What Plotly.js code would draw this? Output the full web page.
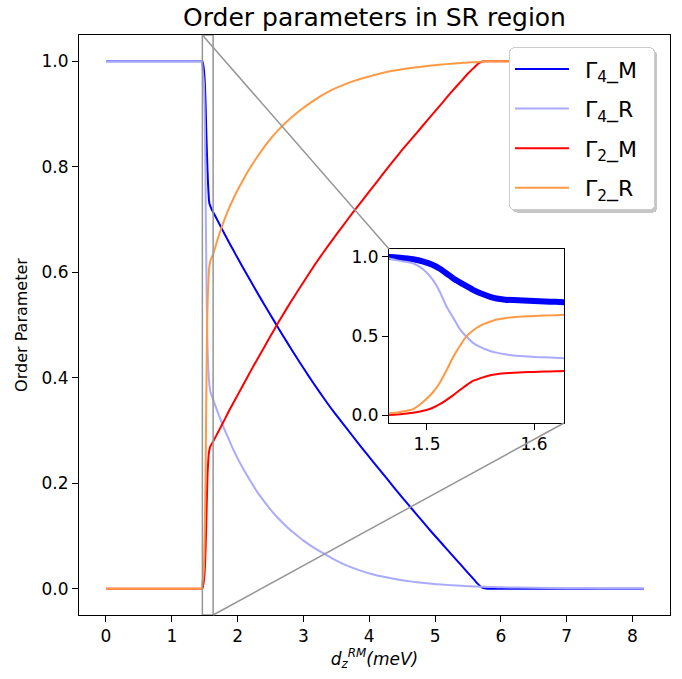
<!DOCTYPE html>
<html>
<head>
<meta charset="utf-8">
<script src="https://cdn.plot.ly/plotly-3.0.1.min.js"></script>
<style>html,body{margin:0;padding:0;background:#fff;}#chart{width:682px;height:679px;}</style>
</head>
<body>
<div id="chart"></div>
<script>
// ---- data ----
const dz = [0, 0.5, 1.0, 1.40, 1.44, 1.455, 1.4645, 1.475, 1.487, 1.4966, 1.505, 1.512, 1.518, 1.525, 1.531, 1.537, 1.543, 1.55, 1.559, 1.565, 1.573, 1.581, 1.59, 1.60, 1.61, 1.62, 1.628,
  1.65, 1.70, 1.75, 1.80, 1.86, 1.93, 2.0, 2.1, 2.2, 2.3, 2.4, 2.5, 2.62, 2.75, 2.88, 3.0, 3.15, 3.3, 3.45, 3.6, 3.75, 3.9, 4.05, 4.2, 4.35, 4.5, 4.65, 4.8, 4.95, 5.1, 5.25, 5.4, 5.5, 5.6, 5.65, 5.7, 5.75, 5.8, 5.9, 6.0, 6.5, 7.0, 7.5, 8.17];
const gamma4M = [1, 1, 1, 1, 1, 1, 1.0, 0.995, 0.985, 0.97, 0.95, 0.925, 0.897, 0.862, 0.838, 0.815, 0.792, 0.77, 0.748, 0.737, 0.73, 0.727, 0.724, 0.721, 0.718, 0.716, 0.714,
  0.709, 0.697, 0.685, 0.673, 0.659, 0.643, 0.627, 0.605, 0.583, 0.561, 0.540, 0.519, 0.494, 0.4675, 0.4416, 0.4183, 0.390, 0.363, 0.337, 0.313, 0.289, 0.265, 0.242, 0.219, 0.196, 0.173, 0.151, 0.129, 0.107, 0.086, 0.065, 0.044, 0.030, 0.016, 0.009, 0.0035, 0.0007, 0, 0, 0, 0, 0, 0, 0];
const gamma4R = [1, 1, 1, 1, 1, 1, 0.99, 0.975, 0.96, 0.92, 0.86, 0.78, 0.69, 0.61, 0.54, 0.495, 0.457, 0.43, 0.405, 0.395, 0.385, 0.377, 0.372, 0.368, 0.365, 0.362, 0.359,
  0.351, 0.334, 0.318, 0.302, 0.285, 0.265, 0.247, 0.224, 0.203, 0.183, 0.166, 0.150, 0.133, 0.117, 0.103, 0.091, 0.0784, 0.0674, 0.0563, 0.0470, 0.0393, 0.0328, 0.0274, 0.0229, 0.0191, 0.0160, 0.0133, 0.0111, 0.0093, 0.0078, 0.0065, 0.0054, 0.0047, 0.0042, 0.0039, 0.0037, 0.0035, 0.0033, 0.0029, 0.0026, 0.0015, 0.0008, 0.0004, 0.0002];
const gamma2M = [0, 0, 0, 0, 0, 0, 0.0, 0.005, 0.015, 0.027, 0.045, 0.069, 0.095, 0.128, 0.16, 0.19, 0.216, 0.234, 0.252, 0.259, 0.264, 0.268, 0.271, 0.273, 0.275, 0.277, 0.279,
  0.284, 0.296, 0.308, 0.320, 0.335, 0.351, 0.367, 0.390, 0.413, 0.435, 0.457, 0.479, 0.505, 0.532, 0.558, 0.581, 0.610, 0.637, 0.663, 0.688, 0.713, 0.737, 0.761, 0.785, 0.809, 0.832, 0.854, 0.876, 0.898, 0.92, 0.942, 0.963, 0.977, 0.989, 0.995, 0.9985, 1.0, 1, 1, 1, 1, 1, 1, 1];
const gamma2R = [0, 0, 0, 0, 0, 0, 0.01, 0.02, 0.038, 0.085, 0.14, 0.205, 0.28, 0.373, 0.44, 0.499, 0.535, 0.566, 0.59, 0.604, 0.613, 0.619, 0.623, 0.626, 0.629, 0.632, 0.634,
  0.643, 0.664, 0.683, 0.700, 0.719, 0.738, 0.756, 0.779, 0.800, 0.819, 0.837, 0.853, 0.870, 0.886, 0.900, 0.912, 0.925, 0.937, 0.947, 0.955, 0.962, 0.968, 0.973, 0.978, 0.982, 0.985, 0.988, 0.990, 0.992, 0.994, 0.9955, 0.997, 0.998, 0.9985, 0.999, 0.9995, 1.0, 1, 1, 1, 1, 1, 1, 1];
const seriesNames = ['Γ<sub>4</sub>_M', 'Γ<sub>4</sub>_R', 'Γ<sub>2</sub>_M', 'Γ<sub>2</sub>_R'];
const xTicks = [0, 1, 2, 3, 4, 5, 6, 7, 8];
const yTicks = [0.0, 0.2, 0.4, 0.6, 0.8, 1.0];
const insetXTicks = [1.5, 1.6];
const insetYTicks = [0.0, 0.5, 1.0];

// ---- styling / layout ----
const colors = ['#0000ff', '#aaaaff', '#ff0000', '#ff9944'];
const ys = [gamma4M, gamma4R, gamma2M, gamma2R];
const FONT = 'DejaVu Sans, sans-serif';
const xr = [-0.41, 8.57], yr = [-0.05, 1.05];
const ixr = [1.4645, 1.628], iyr = [-0.05, 1.05];
const idx = [0.5245, 0.8206], idy = [0.331, 0.631];

const traces = [];
ys.forEach((y, i) => {
  traces.push({x: dz, y: y, type: 'scatter', mode: 'lines', name: '\u2002' + seriesNames[i] + '\u00a0\u2009',
    line: {color: colors[i], width: 2, shape: 'spline', smoothing: 0.6}, xaxis: 'x', yaxis: 'y', legendgroup: 'g' + i});
});
ys.forEach((y, i) => {
  traces.push({x: dz, y: y, type: 'scatter', mode: 'lines', name: seriesNames[i], showlegend: false,
    line: {color: colors[i], width: i === 0 ? 6 : 2, shape: 'spline', smoothing: 0.6}, xaxis: 'x2', yaxis: 'y2', hoverinfo: 'skip'});
});

const px = v => (v - xr[0]) / (xr[1] - xr[0]);
const py = v => (v - yr[0]) / (yr[1] - yr[0]);
const grey = 'rgb(150,150,150)';
const shapes = [
  {type: 'rect', xref: 'x', yref: 'y', x0: ixr[0], x1: ixr[1], y0: iyr[0], y1: iyr[1], line: {color: grey, width: 1.5}},
  {type: 'line', xref: 'paper', yref: 'paper', x0: px(ixr[0]), y0: py(iyr[1]), x1: idx[0], y1: idy[1], line: {color: grey, width: 1.5}},
  {type: 'line', xref: 'paper', yref: 'paper', x0: px(ixr[1]), y0: py(iyr[0]), x1: idx[1], y1: idy[0], line: {color: grey, width: 1.5}}
];

const axisCommon = {showgrid: false, zeroline: false, showline: true, mirror: true, linecolor: '#000', linewidth: 1,
  ticks: 'outside', ticklen: 6, tickwidth: 1, tickcolor: '#000'};

const layout = {
  width: 682, height: 679,
  margin: {l: 79, r: 12, t: 35, b: 64},
  paper_bgcolor: '#fff', plot_bgcolor: '#fff',
  font: {family: FONT, color: '#000', size: 17},
  title: {text: 'Order parameters in SR region', x: 0.5, xref: 'paper', y: 1 - 17 / 679, yanchor: 'middle', font: {size: 25, family: FONT}},
  xaxis: Object.assign({}, axisCommon, {range: xr, tickvals: xTicks, ticktext: xTicks.map(String), tickfont: {size: 17},
    title: {text: '<i>d</i><sub><i>z</i></sub><sup><i>RM</i></sup><i>(meV)</i>', font: {size: 17}, standoff: 6}}),
  yaxis: Object.assign({}, axisCommon, {range: yr, tickvals: yTicks, ticktext: yTicks.map(v => v.toFixed(1)), tickfont: {size: 17},
    title: {text: 'Order Parameter', font: {size: 16}, standoff: 9}}),
  xaxis2: Object.assign({}, axisCommon, {domain: idx, anchor: 'y2', range: ixr, tickvals: insetXTicks, ticktext: insetXTicks.map(v => v.toFixed(1)), tickfont: {size: 17}}),
  yaxis2: Object.assign({}, axisCommon, {domain: idy, anchor: 'x2', range: iyr, tickvals: insetYTicks, ticktext: insetYTicks.map(v => v.toFixed(1)), tickfont: {size: 17}}),
  showlegend: true,
  legend: {x: 0.9746, xanchor: 'right', y: 0.979, yanchor: 'top', bgcolor: '#fff', bordercolor: '#cccccc', borderwidth: 1,
    font: {size: 22, family: FONT}, traceorder: 'grouped', tracegroupgap: 8, itemwidth: 54},
  shapes: shapes
};

Plotly.newPlot('chart', traces, layout, {displayModeBar: false, staticPlot: true}).then(gd => {
  // rounded legend frame with a soft drop shadow (matplotlib fancybox/shadow look)
  const bg = gd.querySelector('.legend .bg');
  if (bg) {
    bg.setAttribute('rx', 5); bg.setAttribute('ry', 5);
    const sh = bg.cloneNode(false);
    sh.setAttribute('class', 'legend-shadow');
    sh.setAttribute('transform', 'translate(3,3)');
    sh.style.fill = 'rgb(160,160,160)';
    sh.style.stroke = 'none';
    sh.style.opacity = '0.6';
    bg.parentNode.insertBefore(sh, bg);
  }
});
</script>
</body>
</html>
